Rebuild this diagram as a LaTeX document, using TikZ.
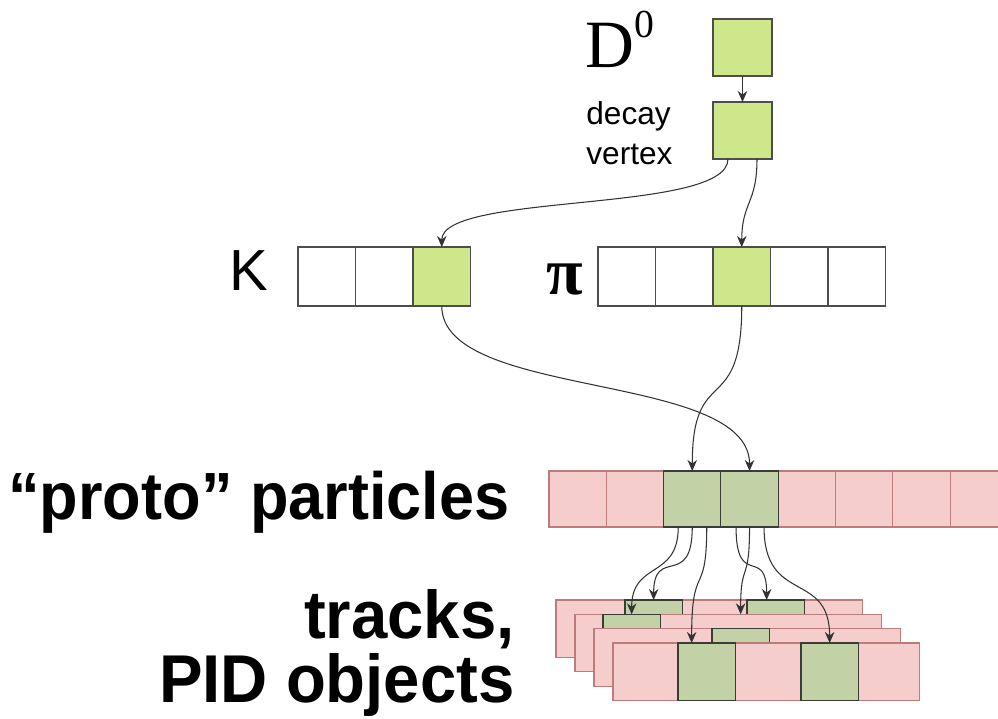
\documentclass[tikz,border=0pt]{standalone}
\usepackage{fontspec}
\newfontfamily\sansfont{Liberation Sans}
\newfontfamily\headfont[FakeStretch=0.945]{Liberation Sans}
\newfontfamily\widehead[FakeStretch=0.965]{Liberation Sans}
\newfontfamily\greekfont{Liberation Serif}
\usetikzlibrary{arrows.meta}
\definecolor{limefill}{HTML}{CDE78A}
\definecolor{boxline}{HTML}{4D4D4D}
\definecolor{pinkfill}{HTML}{F6CDCD}
\definecolor{pinkline}{HTML}{BC7C7C}
\definecolor{sagefill}{HTML}{C3D1A6}
\definecolor{sageline}{HTML}{3A3D36}
\definecolor{wire}{HTML}{333333}

\begin{document}
\begin{tikzpicture}[x=0.02cm,y=-0.02cm,>={Stealth[length=2.2mm,width=1.9mm]},
  cell/.style={draw=boxline,line width=0.7pt,minimum width=1.15cm,minimum height=1.18cm,
    inner sep=0pt,outer sep=0pt},
  pcell/.style={draw=pinkline,fill=pinkfill,line width=0.6pt,minimum width=1.146cm,
    minimum height=1.12cm,inner sep=0pt,outer sep=0pt},
  sage/.style={pcell,draw=sageline,fill=sagefill},
  layer/.style={pcell,minimum width=6.14cm,minimum height=1.15cm},
  link/.style={->,draw=wire,line width=0.6pt},
  big/.style={font=\headfont\bfseries\fontsize{38}{36.3}\selectfont,inner sep=0pt}]
  \useasboundingbox (0,0) rectangle (998,719);
  \clip (0,0) rectangle (998,719);

  % decay chain
  \node[cell,fill=limefill,minimum width=1.18cm,minimum height=1.14cm] (d0) at (742.5,47.5) {};
  \node[cell,fill=limefill,minimum width=1.18cm,minimum height=1.14cm] (vtx) at (742.5,130.5) {};
  \node[anchor=base west,inner sep=0pt,font=\greekfont\fontsize{38.5}{44}\selectfont] (d0lab) at (585,68)
    {D\raisebox{17.6pt}{\fontsize{22.6}{26}\selectfont 0}};
  \node[anchor=north west,inner sep=0pt,align=left,font=\sansfont\fontsize{18}{23}\selectfont]
    (vtxlab) at (586,101) {decay\\vertex};
  \draw[link] (d0) -- (vtx);

  % K and pi candidates
  \foreach \i/\f in {1/white,2/white,3/limefill}
    \node[cell,fill=\f] (k\i) at ({298+57.5*(\i-0.5)},276.5) {};
  \foreach \i/\f in {1/white,2/white,3/limefill,4/white,5/white}
    \node[cell,fill=\f] (pi\i) at ({598+57.5*(\i-0.5)},276.5) {};
  \node[inner sep=0pt,font=\sansfont\fontsize{33}{40}\selectfont] (klab) at (249,271) {K};
  \node[inner sep=0pt,font=\greekfont\bfseries\fontsize{38}{40}\selectfont] (pilab) at (565,280) {π};
  \draw[link] ([xshift=-0.29cm]vtx.south) .. controls +(0,55) and +(0,-55) .. (k3.north);
  \draw[link] ([xshift=0.29cm]vtx.south) .. controls +(0,45) and +(0,-45) .. (pi3.north);

  % proto particles
  \foreach \i in {1,2,5,6,7,8}
    \node[pcell] (p\i) at ({549+57.3*(\i-0.5)},499) {};
  \foreach \i in {3,4}
    \node[sage] (p\i) at ({549+57.3*(\i-0.5)},499) {};
  \node[big,anchor=base east] (protolab) at (510,520) {“proto” particles};
  \draw[link] (k3.south) .. controls +(0,94) and +(0,-100) .. (p4.north);
  \draw[link] (pi3.south) .. controls +(0,114) and +(0,-110) .. (p3.north);

  % tracks and PID objects, stacked back to front
  \node[layer,anchor=north west] (tr1) at (556,600) {};
  \node[sage,anchor=north west,minimum height=1.15cm] (g1a) at (625,600) {};
  \node[sage,anchor=north west,minimum height=1.15cm] (g1b) at (747,600) {};
  \node[layer,anchor=north west] (tr2) at (575,614.3) {};
  \node[sage,anchor=north west,minimum height=1.15cm] (g2a) at (603,614.3) {};
  \node[layer,anchor=north west] (tr3) at (594,628.6) {};
  \node[sage,anchor=north west,minimum height=1.15cm] (g3a) at (712,628.6) {};
  \node[layer,anchor=north west] (tr4) at (613,643) {};
  \node[sage,anchor=north west,minimum height=1.15cm] (g4a) at (678,643) {};
  \node[sage,anchor=north west,minimum height=1.15cm] (g4b) at (801,643) {};
  \node[big,font=\widehead\bfseries\fontsize{38.5}{36.3}\selectfont,anchor=north east,align=right]
    (trlab) at (515,589) {tracks,\\PID objects};

  \draw[link] ([xshift=-0.28cm]p3.south) .. controls +(0,53) and +(0,-54) .. (g2a.north);
  \draw[link] (p3.south) .. controls +(0,63) and +(0,-55) .. (g1a.north);
  \draw[link] ([xshift=0.29cm]p3.south) .. controls +(0,73) and +(0,-83) .. ([xshift=-0.3cm]g4a.north);
  \draw[link] ([xshift=-0.27cm]p4.south) .. controls +(0,63) and +(0,-55) .. ([xshift=-0.18cm]g1b.north);
  \draw[link] (p4.south) .. controls +(0,58) and +(0,-54) .. (g3a.north |- tr2.north);
  \draw[link] ([xshift=0.29cm]p4.south) .. controls +(0,78) and +(0,-73) .. (g4b.north);
\end{tikzpicture}
\end{document}
